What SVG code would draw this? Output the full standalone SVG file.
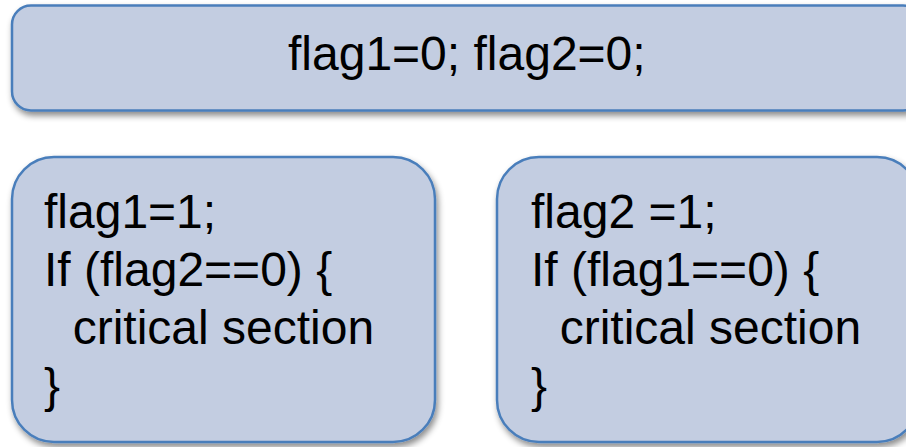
<svg xmlns="http://www.w3.org/2000/svg" width="906" height="447" viewBox="0 0 906 447">
<defs>
<filter id="sh" x="-10%" y="-10%" width="120%" height="130%">
<feDropShadow dx="2" dy="4" stdDeviation="3" flood-color="#000" flood-opacity="0.45"/>
</filter>
</defs>
<style>
.box{fill:#c3cde1;stroke:#4a7ebb;stroke-width:2.5;filter:url(#sh)}
.t{font-family:"Liberation Sans",Arial,sans-serif;font-size:48px;fill:#000}
</style>
<rect width="906" height="447" fill="#fff"/>
<g id="init">
<rect class="box" x="12" y="5.5" width="910" height="105" rx="19"/>
<text class="t" x="288" y="70">flag1=0; flag2=0;</text>
</g>
<g id="proc1">
<rect class="box" x="12" y="157" width="423" height="285" rx="42"/>
<text class="t" xml:space="preserve"><tspan x="44" y="228">flag1=1;</tspan><tspan x="44" y="286">If (flag2==0) {</tspan><tspan x="46" y="344">  critical section</tspan><tspan x="44" y="402">}</tspan></text>
</g>
<g id="proc2">
<rect class="box" x="497" y="157" width="422" height="285" rx="42"/>
<text class="t" xml:space="preserve"><tspan x="531" y="228">flag2 =1;</tspan><tspan x="531" y="286">If (flag1==0) {</tspan><tspan x="533" y="344">  critical section</tspan><tspan x="531" y="402">}</tspan></text>
</g>
<g id="connectors"/>
</svg>
